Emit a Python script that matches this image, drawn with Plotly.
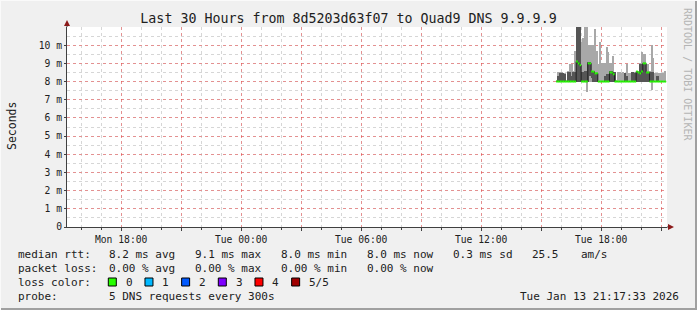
import pandas as pd
import plotly.graph_objects as go

# ---------------- data ----------------
title_text = "Last 30 Hours from 8d5203d63f07 to Quad9 DNS 9.9.9.9"
range_start = "2026-01-12 15:17:33"
range_end = "2026-01-13 21:17:33"
first_step = "2026-01-13 15:45:00"   # first RRD step with data
step_minutes = 5

# smoke: min ping, inner range (dark), max ping, median  (ms)
ping_min = [8.0, 8.0, 8.0, 8.0, 8.0, 8.0, 8.0, 8.0, 8.0, 8.0,
            8.0, 8.0, 8.0, 8.0, 8.0, 8.0, 8.0, 8.0, 7.4, 8.0,
            8.0, 8.0, 8.0, 8.0, 8.0, 8.0, 8.0, 8.0, 8.0, 8.0,
            8.0, 8.0, 8.0, 8.0, 8.0, 8.0, 8.0, 8.0, 8.0, 8.0,
            8.0, 8.0, 8.0, 8.0, 8.0, 8.0, 8.0, 8.0, 8.0, 8.0,
            8.0, 8.0, 8.0, 8.0, 8.0, 8.0, 8.0, 7.55, 8.0, 8.0,
            8.0, 8.0, 8.0, 8.0, 8.0, 8.0]
inner_lo = [8.0] * 20 + [8.3, 8.2] + [8.0] * 44
inner_hi = [8.0, 8.3, 8.45, 8.45, 8.45, 8.4, 8.0, 8.55, 8.5, 8.3,
            8.55, 8.55, 11.2, 11.2, 11.2, 8.5, 8.5, 8.6, 8.6, 9.1,
            9.1, 8.6, 8.6, 8.45, 8.45, 8.0, 8.0, 8.0, 8.0, 8.3,
            8.4, 8.4, 8.6, 8.6, 8.5, 8.5, 8.0, 8.0, 8.0, 8.0,
            8.0, 8.45, 8.3, 8.0, 8.0, 8.55, 8.55, 8.45, 8.55, 8.55,
            8.97, 8.97, 8.97, 8.97, 8.5, 8.5, 8.5, 8.5, 8.5, 8.0,
            8.3, 8.3, 8.0, 8.0, 8.0, 8.0]
ping_max = [8.05, 8.55, 8.55, 8.5, 8.45, 8.45, 8.05, 8.6, 8.95, 8.95,
            8.6, 9.7, 11.2, 11.2, 11.2, 10.2, 10.4, 11.2, 11.2, 10.0,
            10.0, 10.0, 10.0, 10.9, 9.7, 8.97, 10.2, 9.0, 9.0, 9.0,
            9.9, 9.6, 9.0, 9.0, 9.4, 8.55, 8.05, 8.55, 8.5, 8.45,
            8.55, 8.45, 8.97, 8.45, 8.45, 8.55, 8.55, 8.55, 8.6, 8.6,
            9.0, 9.6, 9.5, 9.5, 8.97, 8.97, 8.6, 10.0, 9.3, 8.45,
            8.45, 8.45, 8.45, 8.45, 8.45, 8.57]
median = [8.0, 8.0, 8.0, 8.0, 8.0, 8.0, 8.0, 8.0, 8.0, 8.0,
          8.0, 8.0, 9.1, 9.0, 8.9, 8.0, 8.0, 8.0, 8.0, 9.0,
          9.0, 8.55, 8.55, 8.45, 8.45, 8.0, 8.0, 8.0, 8.0, 8.0,
          8.0, 8.0, 8.5, 8.5, 8.4, 8.0, 8.0, 8.0, 8.0, 8.0,
          8.0, 8.0, 8.0, 8.0, 8.0, 8.0, 8.0, 8.0, 8.55, 8.5,
          8.45, 8.55, 9.0, 9.0, 8.5, 8.5, 8.0, 8.0, 8.0, 8.0,
          8.0, 8.0, 8.0, 8.0, 8.0, 8.0]

y_tick_vals = [0, 1, 2, 3, 4, 5, 6, 7, 8, 9, 10]
y_tick_text = ["0", "1 m", "2 m", "3 m", "4 m", "5 m", "6 m", "7 m", "8 m", "9 m", "10 m"]
x_tick_vals = ["2026-01-12 18:00", "2026-01-12 21:00", "2026-01-13 00:00", "2026-01-13 03:00",
               "2026-01-13 06:00", "2026-01-13 09:00", "2026-01-13 12:00", "2026-01-13 15:00",
               "2026-01-13 18:00", "2026-01-13 21:00"]
x_tick_text = ["Mon 18:00", "", "Tue 00:00", "", "Tue 06:00", "", "Tue 12:00", "", "Tue 18:00", ""]

legend_rows = [
    ["median rtt:", "8.2 ms avg", "9.1 ms max", "8.0 ms min", "8.0 ms now", "0.3 ms sd", "25.5", "am/s"],
    ["packet loss:", "0.00 % avg", "0.00 % max", "0.00 % min", "0.00 % now"],
]
loss_labels = ["0", "1", "2", "3", "4", "5/5"]
loss_colors = ["#26ff00", "#00b8ff", "#0059ff", "#7e00ff", "#ff0000", "#a10000"]
probe_text = "5 DNS requests every 300s"
stamp_text = "Tue Jan 13 21:17:33 2026"
side_text = "RRDTOOL / TOBI OETIKER"

# ---------------- layout helpers (pixel -> paper) ----------------
W, H = 697, 310
PL, PR, PT, PB = 67, 667, 27, 227
def px(x):
    return (x - PL) / (PR - PL)
def py(y):
    return (PB - y) / (PB - PT)

FONT = "DejaVu Sans Mono"
MAJOR_GRID = "rgba(255,0,0,0.32)"
MINOR_GRID = "#d6d6d6"

n = len(median)
left = pd.date_range(first_step, periods=n, freq=f"{step_minutes}min")
step = pd.Timedelta(minutes=step_minutes)
centers = left + step / 2
right = left + step
width_ms = step_minutes * 60 * 1000

fig = go.Figure()

# light smoke (min..max)
fig.add_trace(go.Bar(
    x=centers, base=ping_min, y=[h - l for h, l in zip(ping_max, ping_min)],
    width=width_ms, marker=dict(color="#a8a8a8", line=dict(width=0)),
    hoverinfo="skip"))
# dark smoke (inner pings)
fig.add_trace(go.Bar(
    x=centers, base=inner_lo, y=[h - l for h, l in zip(inner_hi, inner_lo)],
    width=width_ms, marker=dict(color="#555555", line=dict(width=0)),
    hoverinfo="skip"))

# median step line: dark connectors
sx = list(left) + [right[-1]]
sy = list(median) + [median[-1]]
fig.add_trace(go.Scatter(x=sx, y=sy, mode="lines", line=dict(color="#202020", width=1, shape="hv"),
                         hoverinfo="skip"))
# median horizontal segments in loss colour
gx, gy = [], []
for a, b, m in zip(left, right, median):
    gx += [a, b, None]
    gy += [m, m, None]
fig.add_trace(go.Scatter(x=gx, y=gy, mode="lines", line=dict(color=loss_colors[0], width=2),
                         connectgaps=False, hoverinfo="skip"))

fig.update_layout(
    width=W, height=H,
    margin=dict(l=PL, r=W - PR, t=PT, b=H - PB),
    paper_bgcolor="#f0f0f0", plot_bgcolor="#ffffff",
    showlegend=False, barmode="overlay", bargap=0,
    font=dict(family=FONT, color="#202020"),
    title=dict(text=title_text, x=0.5, xanchor="center", y=1 - 18 / H, yanchor="middle",
               font=dict(family=FONT, size=13.3, color="#202020")),
)
fig.update_xaxes(
    type="date", range=[range_start, range_end],
    tickvals=x_tick_vals, ticktext=x_tick_text,
    showgrid=True, gridcolor=MAJOR_GRID, griddash="dot", gridwidth=1,
    minor=dict(dtick=3600000, tick0="2026-01-12 16:00", showgrid=True, gridcolor=MINOR_GRID,
               griddash="dot", ticks="outside", ticklen=2, tickcolor="#404040"),
    showline=True, linecolor="#404040", linewidth=1,
    ticks="outside", ticklen=3, tickcolor="#404040",
    tickfont=dict(family=FONT, size=9.7, color="#202020"),
    zeroline=False,
)
fig.update_yaxes(
    range=[0, 11], tickvals=y_tick_vals, ticktext=y_tick_text,
    showgrid=True, gridcolor=MAJOR_GRID, griddash="dot", gridwidth=1,
    minor=dict(dtick=0.5, showgrid=True, gridcolor=MINOR_GRID, griddash="dot"),
    showline=True, linecolor="#404040", linewidth=1,
    ticks="outside", ticklen=2, tickcolor="#404040",
    tickfont=dict(family=FONT, size=9.7, color="#202020"),
    zeroline=False,
)

shapes = []
# axis extensions and arrows
shapes.append(dict(type="line", xref="paper", yref="paper", x0=px(PR), x1=px(669), y0=0, y1=0,
                   line=dict(color="#404040", width=1)))
shapes.append(dict(type="line", xref="paper", yref="paper", x0=0, x1=0, y0=1, y1=py(24),
                   line=dict(color="#404040", width=1)))
shapes.append(dict(type="path", xref="paper", yref="paper",
                   path=f"M{px(668)},{py(224)} L{px(674)},{py(227)} L{px(668)},{py(230)} Z",
                   fillcolor="#8b1a1a", line=dict(width=0)))
shapes.append(dict(type="path", xref="paper", yref="paper",
                   path=f"M{px(64)},{py(26)} L{px(67)},{py(20)} L{px(70)},{py(26)} Z",
                   fillcolor="#8b1a1a", line=dict(width=0)))
# frame
shapes.append(dict(type="line", xref="paper", yref="paper", x0=px(0), x1=px(W), y0=py(H - 1), y1=py(H - 1),
                   line=dict(color="#a0a0a0", width=2)))
shapes.append(dict(type="line", xref="paper", yref="paper", x0=px(W - 1), x1=px(W - 1), y0=py(0), y1=py(H),
                   line=dict(color="#a0a0a0", width=2)))
shapes.append(dict(type="line", xref="paper", yref="paper", x0=px(0), x1=px(W), y0=py(0.5), y1=py(0.5),
                   line=dict(color="#fafafa", width=1)))
shapes.append(dict(type="line", xref="paper", yref="paper", x0=px(0.5), x1=px(0.5), y0=py(0), y1=py(H),
                   line=dict(color="#fafafa", width=1)))

annotations = []
def txt(s, x, y, anchor="left", size=11, color="#202020", angle=0):
    annotations.append(dict(text=s, xref="paper", yref="paper", x=px(x), y=py(y),
                            xanchor=anchor, yanchor="middle", showarrow=False, textangle=angle,
                            font=dict(family=FONT, size=size, color=color)))

col_x = [16, 107.3, 193.3, 279.3, 365, 451, 530, 579.3]
row_y = [254.5, 268.5, 282.7, 296.5]
for r, row in enumerate(legend_rows):
    for c, s in enumerate(row):
        txt(s, col_x[c], row_y[r])
txt("loss color:", 16, row_y[2])
for k, (lab, colr) in enumerate(zip(loss_labels, loss_colors)):
    x0 = 108.3 + 36.67 * k
    shapes.append(dict(type="rect", xref="paper", yref="paper", x0=px(x0), x1=px(x0 + 8),
                       y0=py(278), y1=py(286), fillcolor=colr, line=dict(color="#000000", width=1)))
    txt(lab, x0 + 15.5, row_y[2])
txt("probe:", 16, row_y[3])
txt(probe_text, col_x[1], row_y[3])
txt(stamp_text, 681, row_y[3], anchor="right")
txt("Seconds", 12, 126, anchor="center", size=11.5, angle=-90)
txt(side_text, 688, 74, anchor="center", size=10, color="#b4b4b4", angle=90)

fig.update_layout(shapes=shapes, annotations=annotations)
fig.write_html("out.html")
